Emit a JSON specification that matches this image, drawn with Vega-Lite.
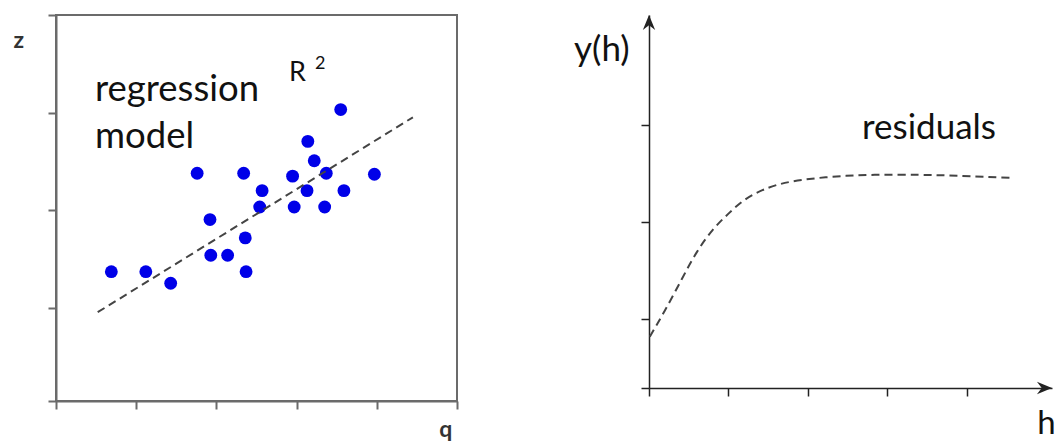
{
  "$schema": "https://vega.github.io/schema/vega-lite/v6.json",
  "background": "white",
  "padding": {"left": 12, "top": 13, "right": 0, "bottom": 0},
  "bounds": "flush",
  "spacing": 192,
  "config": {"view": {"stroke": null}, "font": "Lato", "axis": {"grid": false, "labels": false}},
  "hconcat": [
    {
      "width": 401,
      "height": 386,
      "view": {"stroke": "#6b6b6b", "strokeWidth": 2},
      "encoding": {
        "x": {"field": "x", "type": "quantitative", "scale": {"domain": [0, 5], "nice": false, "zero": false},
              "axis": {"values": [0, 1, 2, 3, 4, 5], "title": null, "labels": false, "domainColor": "#6b6b6b", "domainWidth": 2, "tickColor": "#6b6b6b", "tickWidth": 2, "tickSize": 8}},
        "y": {"field": "y", "type": "quantitative", "scale": {"domain": [0, 4], "nice": false, "zero": false},
              "axis": {"values": [0, 0.964, 1.98, 2.98, 4], "title": null, "labels": false, "domainColor": "#6b6b6b", "domainWidth": 2, "tickColor": "#6b6b6b", "tickWidth": 2, "tickSize": 8}}
      },
      "layer": [
        {
          "data": {"values": [
            {"x": 0.69, "y": 1.34}, {"x": 1.12, "y": 1.34}, {"x": 1.43, "y": 1.22}, {"x": 1.76, "y": 2.36},
            {"x": 1.92, "y": 1.88}, {"x": 1.93, "y": 1.51}, {"x": 2.14, "y": 1.51}, {"x": 2.34, "y": 2.36},
            {"x": 2.36, "y": 1.69}, {"x": 2.37, "y": 1.34}, {"x": 2.57, "y": 2.18}, {"x": 2.54, "y": 2.01},
            {"x": 2.95, "y": 2.33}, {"x": 2.97, "y": 2.01}, {"x": 3.14, "y": 2.69}, {"x": 3.22, "y": 2.49},
            {"x": 3.13, "y": 2.18}, {"x": 3.37, "y": 2.36}, {"x": 3.35, "y": 2.01}, {"x": 3.55, "y": 3.02},
            {"x": 3.59, "y": 2.18}, {"x": 3.97, "y": 2.35}
          ]},
          "mark": {"type": "circle", "size": 165, "color": "#0000e8", "opacity": 1}
        },
        {
          "data": {"values": [{"x": 0.52, "y": 0.92}, {"x": 4.45, "y": 2.94}]},
          "mark": {"type": "line", "strokeDash": [8, 5], "color": "#444444", "strokeWidth": 2}
        },
        {
          "data": {"values": [{"x": 0.486, "y": 3.11, "label": "regression"}, {"x": 0.486, "y": 2.62, "label": "model"}]},
          "mark": {"type": "text", "align": "left", "baseline": "alphabetic", "fontSize": 36.5, "color": "#111111"},
          "encoding": {"text": {"field": "label"}}
        },
        {
          "data": {"values": [{"x": 2.905, "y": 3.316, "label": "R"}]},
          "mark": {"type": "text", "align": "left", "baseline": "alphabetic", "fontSize": 27, "color": "#111111"},
          "encoding": {"text": {"field": "label"}}
        },
        {
          "data": {"values": [{"x": 3.23, "y": 3.44, "label": "2"}]},
          "mark": {"type": "text", "align": "left", "baseline": "alphabetic", "fontSize": 18, "color": "#111111"},
          "encoding": {"text": {"field": "label"}}
        },
        {
          "data": {"values": [{"x": -0.53, "y": 3.66, "label": "z"}, {"x": 4.78, "y": -0.373, "label": "q"}]},
          "mark": {"type": "text", "align": "left", "baseline": "alphabetic", "fontSize": 23, "fontWeight": "bold", "color": "#333333"},
          "encoding": {"text": {"field": "label"}}
        }
      ]
    },
    {
      "width": 403,
      "height": 373,
      "view": {"stroke": null},
      "encoding": {
        "x": {"field": "x", "type": "quantitative", "scale": {"domain": [0, 5.07], "nice": false, "zero": false},
              "axis": {"values": [0, 1, 2, 3, 4], "title": null, "labels": false, "domainColor": "#222222", "domainWidth": 1.5, "tickColor": "#222222", "tickWidth": 1.5, "tickSize": 8}},
        "y": {"field": "y", "type": "quantitative", "scale": {"domain": [0, 3.85], "nice": false, "zero": false},
              "axis": {"values": [0, 0.71, 1.71, 2.71], "title": null, "labels": false, "domainColor": "#222222", "domainWidth": 1.5, "tickColor": "#222222", "tickWidth": 1.5, "tickSize": 8}}
      },
      "layer": [
        {
          "data": {"values": [
            {"x": 0.01, "y": 0.53}, {"x": 0.2, "y": 0.8}, {"x": 0.41, "y": 1.12}, {"x": 0.6, "y": 1.4},
            {"x": 0.8, "y": 1.63}, {"x": 1.0, "y": 1.8}, {"x": 1.2, "y": 1.94}, {"x": 1.45, "y": 2.05},
            {"x": 1.79, "y": 2.13}, {"x": 2.3, "y": 2.18}, {"x": 2.84, "y": 2.2}, {"x": 3.4, "y": 2.2},
            {"x": 3.9, "y": 2.19}, {"x": 4.54, "y": 2.17}
          ]},
          "mark": {"type": "line", "interpolate": "natural", "strokeDash": [8, 5], "color": "#444444", "strokeWidth": 2}
        },
        {
          "data": {"values": [{"x": 0, "y": 3.85}]},
          "mark": {"type": "point", "shape": "M0,0 L0.45,1.1 L0,0.75 L-0.45,1.1 Z", "filled": true, "size": 750, "color": "#222222", "opacity": 1}
        },
        {
          "data": {"values": [{"x": 5.07, "y": 0}]},
          "mark": {"type": "point", "shape": "M0,0 L-1.1,-0.45 L-0.75,0 L-1.1,0.45 Z", "filled": true, "size": 750, "color": "#222222", "opacity": 1}
        },
        {
          "data": {"values": [
            {"x": -0.943, "y": 3.375, "label": "y(h)"},
            {"x": 2.68, "y": 2.57, "label": "residuals"}
          ]},
          "mark": {"type": "text", "align": "left", "baseline": "alphabetic", "fontSize": 35, "color": "#111111"},
          "encoding": {"text": {"field": "label"}}
        },
        {
          "data": {"values": [{"x": 5.0, "y": -0.475, "label": "h"}]},
          "mark": {"type": "text", "align": "center", "baseline": "alphabetic", "fontSize": 33, "color": "#111111"},
          "encoding": {"text": {"field": "label"}}
        }
      ]
    }
  ]
}
